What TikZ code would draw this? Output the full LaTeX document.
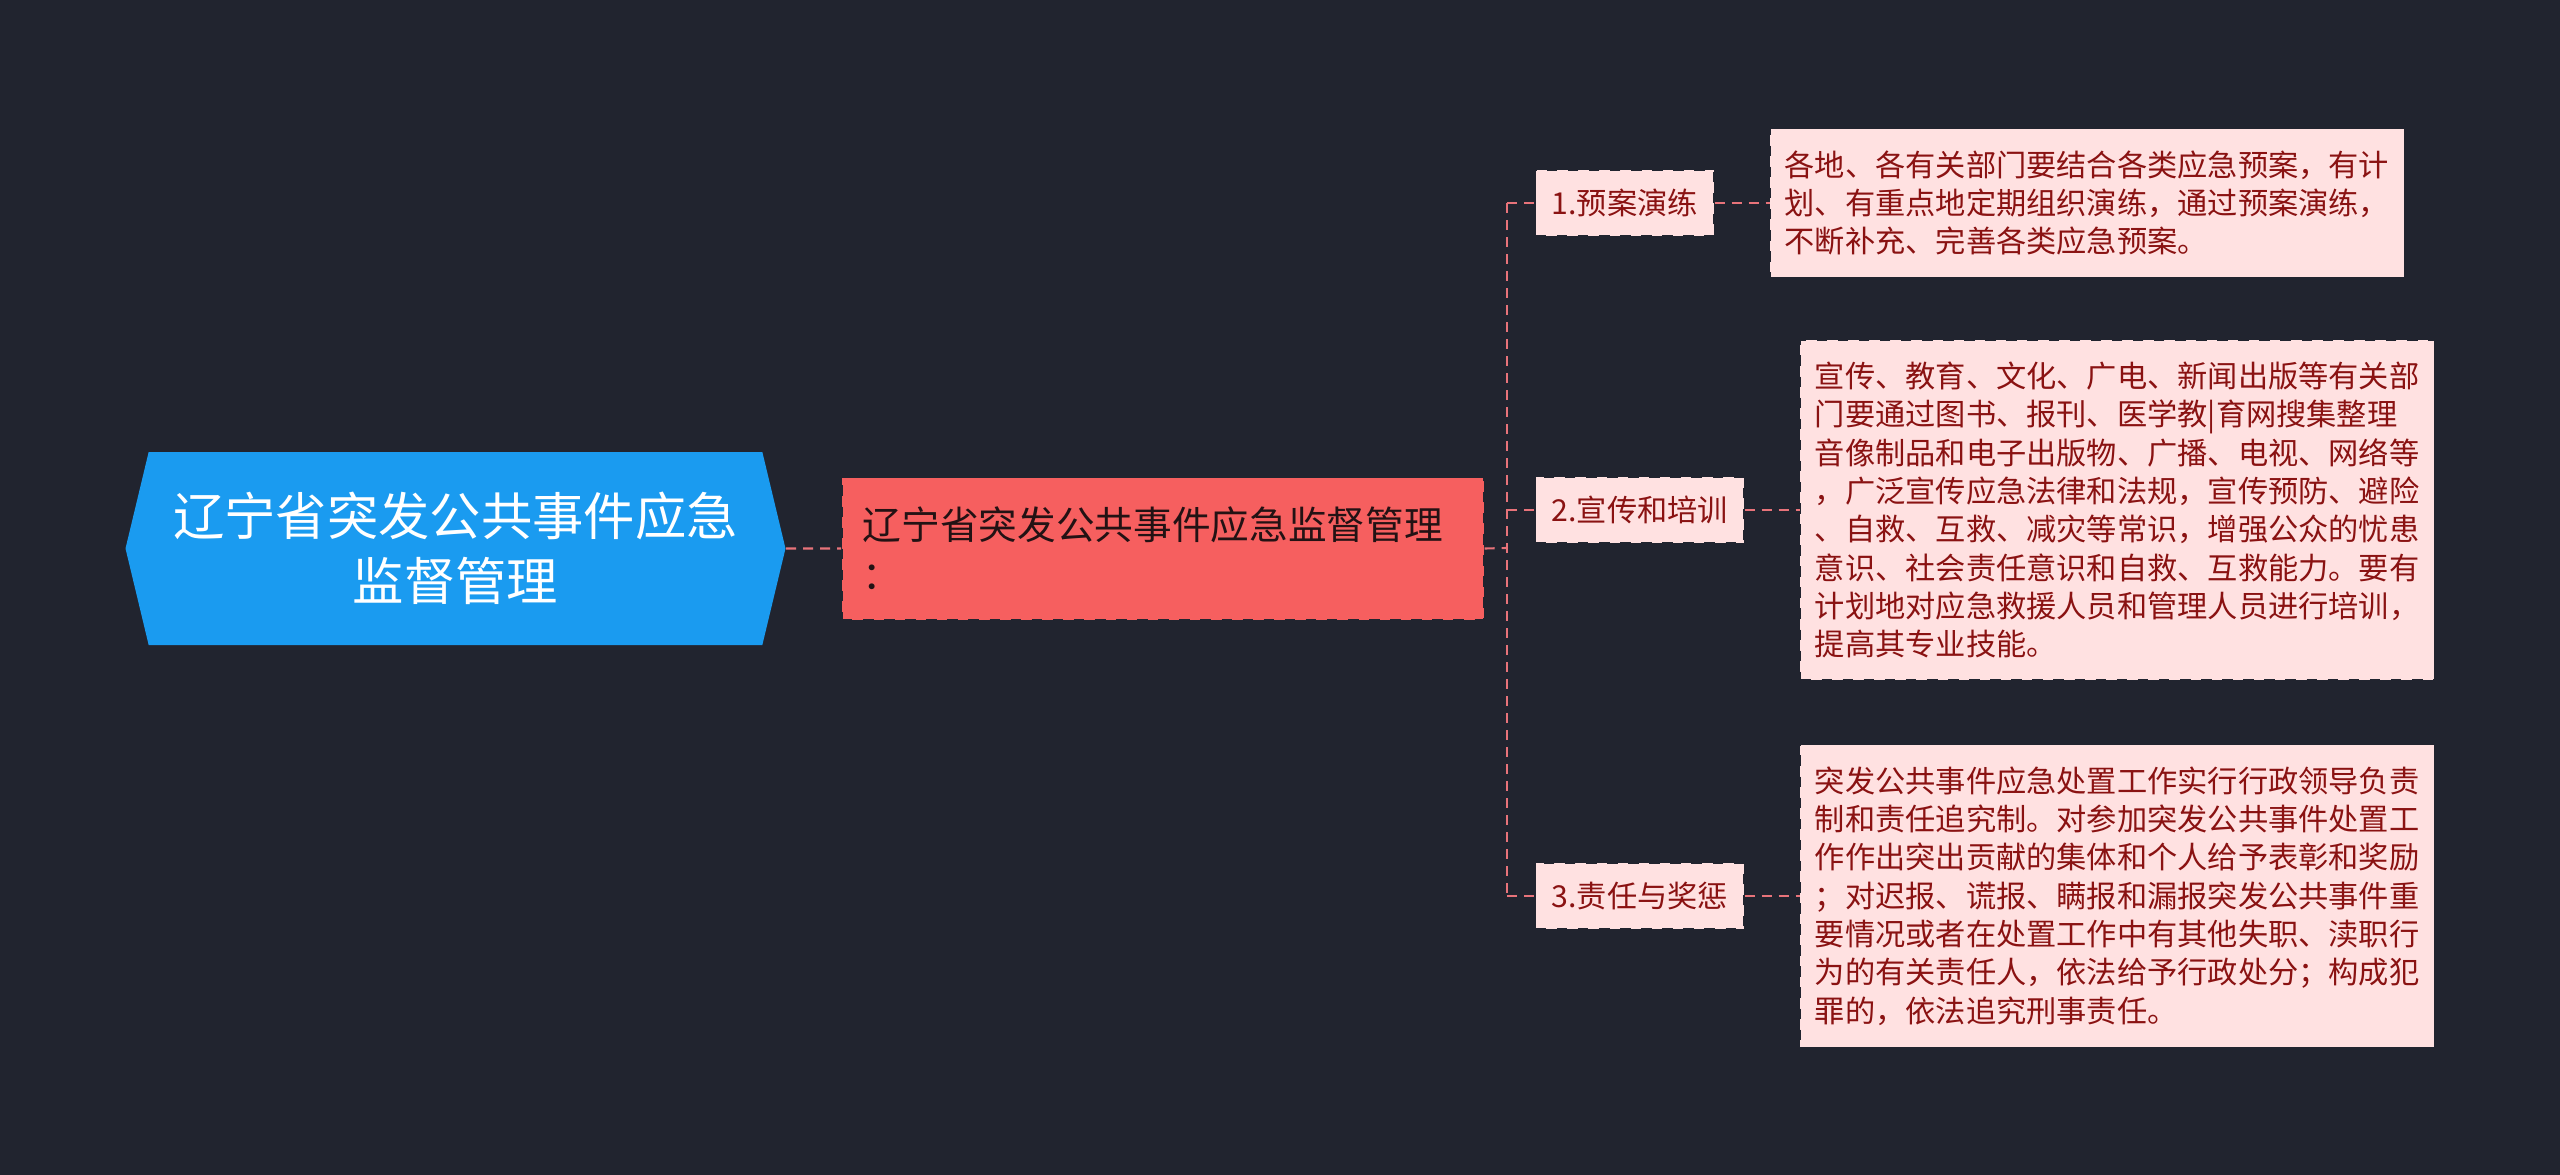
\documentclass[tikz,border=0pt]{standalone}
\usepackage{fontspec}
\setmainfont{Noto Sans CJK SC}
\usetikzlibrary{positioning, shapes.symbols}
\definecolor{cBg}{HTML}{21242F}
\definecolor{cRoot}{HTML}{1A9BF0}
\definecolor{cMain}{HTML}{F65F5F}
\definecolor{cPink}{HTML}{FFE1E1}
\definecolor{cText}{HTML}{8A1212}
\definecolor{cLink}{HTML}{E8737A}

\begin{document}
\begin{tikzpicture}[
          rootnode/.style={shape=signal, signal to=west and east, signal pointer angle=153,
                    fill=cRoot, text=white, minimum width=6.6cm, minimum height=1.93cm,
                    inner sep=0pt, align=center, font=\fontsize{14.6pt}{18.5pt}\selectfont},
          topic/.style={fill=cMain, draw=cBg, dashed, text=cBg!60!cMain!30!black,
                    text width=6.0cm, inner xsep=0.21cm, minimum height=1.42cm,
                    align=left, font=\fontsize{11pt}{14.3pt}\selectfont},
          sub/.style={fill=cPink, draw=cBg, dashed, text=cText, inner xsep=0.16cm,
                    minimum height=0.66cm, font=\fontsize{8.6pt}{10.9pt}\selectfont},
          leaf/.style={fill=cPink, draw=cBg, dashed, text=cText, text width=6.05cm,
                    inner xsep=0.145cm, inner ysep=0.22cm, align=left,
                    font=\fontsize{8.6pt}{10.9pt}\selectfont},
          link/.style={draw=cLink, line width=0.6pt, dash pattern=on 0.1cm off 0.07cm}]
        \fill[cBg] (0,0) rectangle (25.6,-11.75);
        \useasboundingbox (0,0) rectangle (25.6,-11.75);
        \node[rootnode] (r) at (4.555,-5.485) {辽宁省突发公共事件应急\\监督管理};
        \node[topic, right=0.55cm of r] (m) {辽宁省突发公共事件应急监督管理\\：};
        \node[sub, anchor=west] (s1) at (15.35,-2.03) {1.预案演练};
        \node[sub, anchor=west] (s2) at (15.35,-5.10) {2.宣传和培训};
        \node[sub, anchor=west] (s3) at (15.35,-8.96) {3.责任与奖惩};
        \node[leaf, right=0.55cm of s1] (l1) {各地、各有关部门要结合各类应急预案，有计\\划、有重点地定期组织演练，通过预案演练，\\不断补充、完善各类应急预案。};
        \node[leaf, right=0.55cm of s2] (l2) {宣传、教育、文化、广电、新闻出版等有关部\\门要通过图书、报刊、医学教|育网搜集整理\\音像制品和电子出版物、广播、电视、网络等\\，广泛宣传应急法律和法规，宣传预防、避险\\、自救、互救、减灾等常识，增强公众的忧患\\意识、社会责任意识和自救、互救能力。要有\\计划地对应急救援人员和管理人员进行培训，\\提高其专业技能。};
        \node[leaf, right=0.55cm of s3] (l3) {突发公共事件应急处置工作实行行政领导负责\\制和责任追究制。对参加突发公共事件处置工\\作作出突出贡献的集体和个人给予表彰和奖励\\；对迟报、谎报、瞒报和漏报突发公共事件重\\要情况或者在处置工作中有其他失职、渎职行\\为的有关责任人，依法给予行政处分；构成犯\\罪的，依法追究刑事责任。};
        \coordinate (t) at (15.07,-5.48);
        \draw[link] (r) -- (m);
        \draw[link] (m.east) -- (t);
        \draw[link] (t |- s1) -- (t |- s3);
        \foreach \i in {1,2,3} {
          \draw[link] (t |- s\i) -- (s\i.west);
          \draw[link] (s\i) -- (l\i);
        }
      \end{tikzpicture}
\end{document}
